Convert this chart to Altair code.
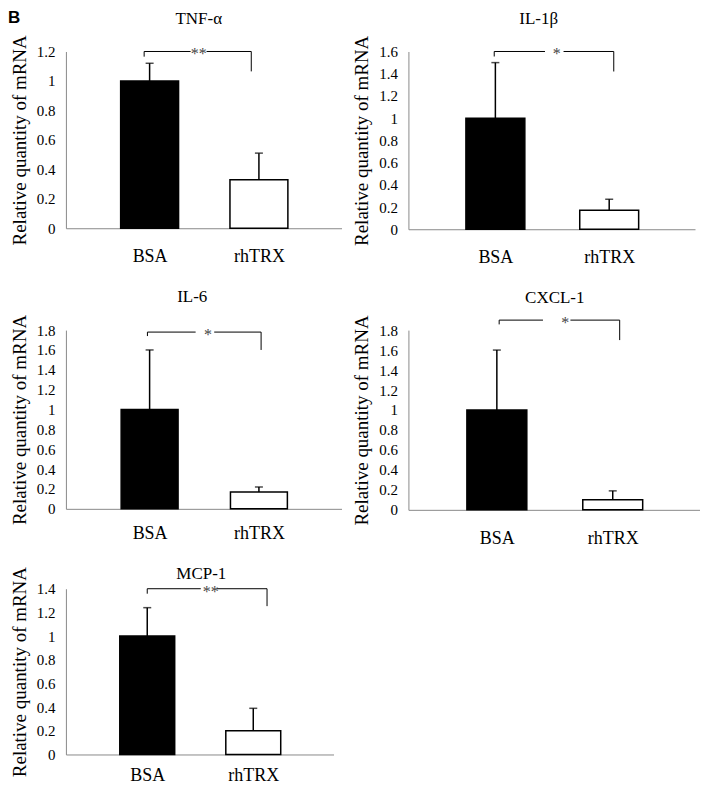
import altair as alt
import pandas as pd

# ---------------- data ----------------
genes = ["TNF-α", "IL-1β", "IL-6", "CXCL-1", "MCP-1"]
groups = ["BSA", "rhTRX"]
bsa_mean = [1.0, 1.0, 1.0, 1.0, 1.0]
bsa_upper = [1.12, 1.50, 1.60, 1.60, 1.24]
trx_mean = [0.33, 0.17, 0.17, 0.10, 0.20]
trx_upper = [0.51, 0.27, 0.22, 0.19, 0.39]
stars = ["**", "*", "*", "*", "**"]
y_titles = ["Relative quantity of  mRNA", "Relative quantity of  mRNA",
            "Relative quantity of  mRNA", "Relative quantity of mRNA",
            "Relative quantity of  mRNA"]
y_max = [1.2, 1.6, 1.8, 1.8, 1.4]
y_ticks = [
    [0, 0.2, 0.4, 0.6, 0.8, 1, 1.2],
    [0, 0.2, 0.4, 0.6, 0.8, 1, 1.2, 1.4, 1.6],
    [0, 0.2, 0.4, 0.6, 0.8, 1, 1.2, 1.4, 1.6, 1.8],
    [0, 0.2, 0.4, 0.6, 0.8, 1, 1.2, 1.4, 1.6, 1.8],
    [0, 0.2, 0.4, 0.6, 0.8, 1, 1.2, 1.4],
]
# significance brackets (data units)
br_top = [1.2, 1.6, 1.78, 1.90, 1.40]
br_left_end = [1.165, 1.555, 1.74, 1.857, 1.358]
br_right_end = [1.065, 1.42, 1.60, 1.70, 1.253]
br_x_left = [-0.05, -0.01, -0.02, 0.02, 0.0]
br_x_right = [0.93, 1.04, 1.02, 1.06, 1.13]
star_x = [0.45, 0.54, 0.535, 0.59, 0.60]
gap_l = [0.375, 0.436, 0.421, 0.398, 0.505]
gap_r = [0.521, 0.599, 0.591, 0.635, 0.655]
title_x = [0.45, 0.38, 0.39, 0.50, 0.51]

# ---------------- layout / style ----------------
SERIF = "Liberation Serif"
widths = [276, 287, 276, 292, 268]
heights = [177, 178, 179, 180, 166]
bar_px = [58, 59, 57, 60, 55]
title_gap = [28, 28, 28, 27, 10]
x_label_pad = [19, 19, 16, 20, 12]
X_DOMAIN = [-0.72, 1.71]
label_expr = "['" + "','".join(groups) + "'][datum.value]"


def panel(i):
    bars = pd.DataFrame({
        "idx": [0, 1],
        "group": groups,
        "mean": [bsa_mean[i], trx_mean[i]],
        "upper": [bsa_upper[i], trx_upper[i]],
    })
    segs = pd.DataFrame({
        "x": [br_x_left[i], gap_r[i], br_x_left[i], br_x_right[i]],
        "x2": [gap_l[i], br_x_right[i], br_x_left[i], br_x_right[i]],
        "y": [br_top[i], br_top[i], br_top[i], br_top[i]],
        "y2": [br_top[i], br_top[i], br_left_end[i], br_right_end[i]],
    })
    star = pd.DataFrame({"x": [star_x[i]], "y": [br_top[i]], "t": [stars[i]]})
    ttl = pd.DataFrame({"x": [title_x[i]], "t": [genes[i]]})

    xscale = alt.Scale(domain=X_DOMAIN, nice=False, zero=False)
    yscale = alt.Scale(domain=[0, y_max[i]], nice=False)

    xaxis = alt.Axis(values=[0, 1], labelExpr=label_expr, ticks=False, grid=False,
                     title=None, domainColor="#8a8a8a", domainWidth=1,
                     labelFont=SERIF, labelFontSize=18, labelColor="black",
                     labelPadding=x_label_pad[i], labelFlush=False, labelOverlap=False)
    yaxis = alt.Axis(values=y_ticks[i], format="~g", ticks=False, grid=False,
                     title=y_titles[i], domainColor="#8a8a8a", domainWidth=1,
                     labelFont=SERIF, labelFontSize=15, labelColor="black",
                     labelOverlap=False, labelFlush=False, labelSeparation=0,
                     labelPadding=11, titlePadding=7, titleFont=SERIF,
                     titleFontSize=19, titleFontWeight="normal", titleColor="black")

    def X(f):
        return alt.X(f, scale=xscale, axis=xaxis)

    def Y(f):
        return alt.Y(f, scale=yscale, axis=yaxis)

    base = alt.Chart(bars)
    bar = base.mark_bar(size=bar_px[i], stroke="black", strokeWidth=1.5).encode(
        x=X("idx:Q"),
        y=Y("mean:Q"),
        fill=alt.Fill("group:N", scale=alt.Scale(domain=groups, range=["black", "white"]),
                      legend=None),
    )
    err = base.mark_rule(color="black", strokeWidth=1.5).encode(
        x=X("idx:Q"), y=Y("mean:Q"), y2="upper:Q")
    cap = base.mark_tick(orient="horizontal", size=8, thickness=1.5, color="black").encode(
        x=X("idx:Q"), y=Y("upper:Q"))
    bracket = alt.Chart(segs).mark_rule(color="black", strokeWidth=1).encode(
        x=X("x:Q"), x2="x2:Q", y=Y("y:Q"), y2="y2:Q")
    star_t = alt.Chart(star).mark_text(font=SERIF, fontSize=16, baseline="middle", dy=3,
                                       color="#444444").encode(
        x=X("x:Q"), y=Y("y:Q"), text="t:N")
    title_t = alt.Chart(ttl).mark_text(font=SERIF, fontSize=17, baseline="alphabetic",
                                       align="center", color="black").encode(
        x=X("x:Q"), y=alt.value(-title_gap[i]), text="t:N")
    layers = [bar, err, cap, bracket, star_t, title_t]
    if i == 0:
        letter = alt.Chart(pd.DataFrame({"t": ["B"]})).mark_text(
            font="Liberation Sans", fontWeight="bold", fontSize=17, align="left",
            baseline="alphabetic", color="black").encode(
            text="t:N", x=alt.value(-58), y=alt.value(-29))
        layers.append(letter)
    return alt.layer(*layers).properties(width=widths[i], height=heights[i])


grid = alt.concat(panel(0), panel(1), panel(2), panel(3), columns=2,
                  spacing={"row": 101, "column": 67}, bounds="flush")
chart = alt.vconcat(grid, panel(4), spacing=16, bounds="full").properties(
    padding=0
).configure_view(stroke=None).configure_axis(
    labelFont=SERIF, titleFont=SERIF, labelOverlap=False
)

chart.save("out.html", embed_options={"renderer": "svg", "actions": False})
